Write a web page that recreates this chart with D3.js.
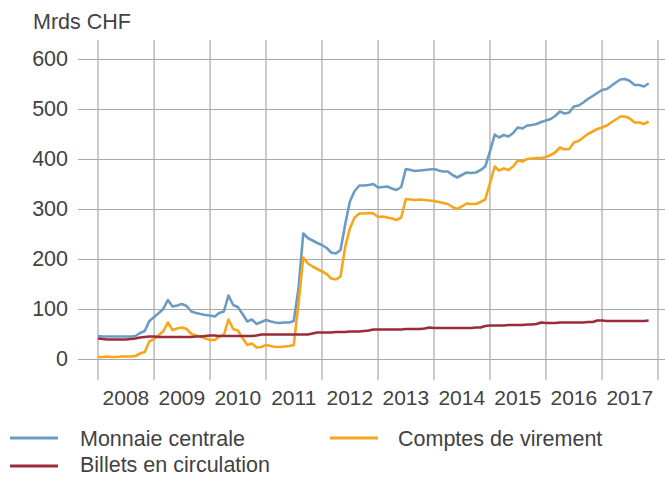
<!DOCTYPE html>
<html>
<head>
<meta charset="utf-8">
<script src="https://cdn.jsdelivr.net/npm/d3@7"></script>
<style>
  html, body { margin: 0; padding: 0; background: #fff; }
  svg { display: block; }
  text { font-family: "Liberation Sans", Arial, sans-serif; fill: #424242; }
</style>
</head>
<body>
<svg id="chart" width="665" height="477"></svg>
<script>
// Monthly values, January 2008 to November 2017 (Mrds CHF)
const startMonth = new Date(2008, 0, 1);

const monnaieCentrale = [
  46, 45, 45, 45, 45, 45, 45, 45, 46, 52, 56, 76,
  84, 92, 100, 118, 105, 107, 110, 106, 95, 92, 90, 88,
  87, 85, 92, 95, 127, 108, 104, 90, 75, 79, 70, 74,
  78, 75, 73, 72, 73, 73, 76, 141, 251, 242, 237, 232,
  228, 222, 213, 211, 218, 270, 315, 336, 347, 347, 348, 350,
  343, 344, 345, 341, 338, 344, 380, 378, 376, 377, 378, 379,
  380, 377, 375, 375, 368, 363, 368, 373, 372, 373, 378, 385,
  415, 449, 443, 448, 445, 452, 463, 461, 467, 468, 470, 474,
  477, 480, 486, 495, 491, 493, 505, 507, 513, 520, 526, 532,
  538, 540, 546, 553, 559, 560, 556, 548, 548, 545, 551
];

const comptesVirement = [
  4, 4, 5, 4, 4, 5, 5, 5, 6, 11, 14, 35,
  40, 48, 55, 73, 58, 61, 63, 60, 50, 47, 45, 41,
  38, 38, 45, 48, 79, 60, 57, 42, 28, 31, 23, 24,
  28, 26, 24, 24, 25, 26, 28, 111, 203, 191, 185, 180,
  175, 170, 161, 159, 165, 225, 261, 283, 291, 291, 292, 291,
  284, 285, 283, 281, 278, 283, 320, 319, 318, 319, 318, 317,
  316, 314, 312, 310, 304, 300, 305, 311, 310, 310, 314, 319,
  352, 385, 377, 381, 378, 385, 397, 395, 400, 401, 402, 402,
  404, 408, 413, 423, 419, 420, 433, 436, 443, 450, 455, 460,
  463, 467, 473, 479, 485, 485, 481, 473, 473, 470, 475
];

const billetsCirculation = [
  41, 40, 39, 39, 39, 39, 39, 40, 41, 43, 44, 45,
  45, 44, 44, 44, 44, 44, 44, 44, 44, 45, 45, 46,
  47, 47, 46, 46, 46, 46, 46, 46, 46, 46, 47, 49,
  49, 49, 49, 49, 49, 49, 49, 49, 49, 49, 51, 53,
  53, 53, 53, 54, 54, 54, 55, 55, 55, 56, 57, 59,
  59, 59, 59, 59, 59, 59, 60, 60, 60, 60, 61, 63,
  62, 62, 62, 62, 62, 62, 62, 62, 62, 63, 63, 66,
  67, 67, 67, 67, 68, 68, 68, 68, 69, 69, 70, 73,
  72, 72, 72, 73, 73, 73, 73, 73, 73, 74, 74, 77,
  77, 76, 76, 76, 76, 76, 76, 76, 76, 76, 77
];

const yTicks = [0, 100, 200, 300, 400, 500, 600];
const yearLabels = ["2008", "2009", "2010", "2011", "2012", "2013", "2014", "2015", "2016", "2017"];
const unitLabel = "Mrds CHF";

const seriesNames = ["Monnaie centrale", "Comptes de virement", "Billets en circulation"];
const seriesColors = ["#6b9bc4", "#f8a51b", "#9b2b3b"];
const seriesValues = [monnaieCentrale, comptesVirement, billetsCirculation];

const months = seriesValues[0].map((_, i) => d3.timeMonth.offset(startMonth, i));

const svg = d3.select("#chart");

const x = d3.scaleTime()
  .domain([new Date(2008, 0, 1), new Date(2018, 0, 1)])
  .range([98, 658]);

const y = d3.scaleLinear()
  .domain([0, 600])
  .range([359, 59]);

const gridColor = "#a8a8a8";

// Horizontal gridlines with value labels
const gy = svg.append("g")
  .attr("transform", "translate(78,0)")
  .call(d3.axisLeft(y).tickValues(yTicks).tickSize(-(665 - 78)).tickPadding(10).tickFormat(d3.format("d")));
gy.select(".domain").remove();
gy.selectAll(".tick line").attr("stroke", gridColor).attr("stroke-width", 1.2);
gy.selectAll(".tick text")
  .attr("font-size", 21.5)
  .style("font-family", "'Liberation Sans', Arial, sans-serif")
  .attr("fill", "#424242");

// Vertical year dividers
const yearStarts = d3.range(2008, 2019).map(yr => new Date(yr, 0, 1));
svg.append("g")
  .selectAll("line")
  .data(yearStarts)
  .join("line")
  .attr("x1", d => x(d)).attr("x2", d => x(d))
  .attr("y1", 40).attr("y2", 380)
  .attr("stroke", gridColor)
  .attr("stroke-width", 1.2);

// Year labels centred within each year
svg.append("g")
  .selectAll("text")
  .data(yearLabels)
  .join("text")
  .attr("x", d => x(new Date(+d, 6, 1)))
  .attr("y", 405)
  .attr("text-anchor", "middle")
  .attr("font-size", 21)
  .text(d => d);

// Unit label
svg.append("text")
  .attr("x", 33)
  .attr("y", 29)
  .attr("font-size", 21.5)
  .text(unitLabel);

// Series lines
const line = d3.line()
  .x((d, i) => x(months[i]))
  .y(d => y(d));

svg.append("g")
  .selectAll("path")
  .data(seriesValues)
  .join("path")
  .attr("fill", "none")
  .attr("stroke", (d, i) => seriesColors[i])
  .attr("stroke-width", 2.6)
  .attr("stroke-linejoin", "round")
  .attr("d", line);

// Legend
const legendPos = [
  { lx: 10, ly: 438, tx: 80, ty: 446 },
  { lx: 330, ly: 438, tx: 398, ty: 446 },
  { lx: 10, ly: 466, tx: 80, ty: 472 }
];
const legend = svg.append("g").attr("class", "legend");
seriesNames.forEach((name, i) => {
  const p = legendPos[i];
  legend.append("line")
    .attr("x1", p.lx).attr("x2", p.lx + 48)
    .attr("y1", p.ly).attr("y2", p.ly)
    .attr("stroke", seriesColors[i])
    .attr("stroke-width", 3);
  legend.append("text")
    .attr("x", p.tx).attr("y", p.ty)
    .attr("font-size", 21.5)
    .text(name);
});
</script>
</body>
</html>
